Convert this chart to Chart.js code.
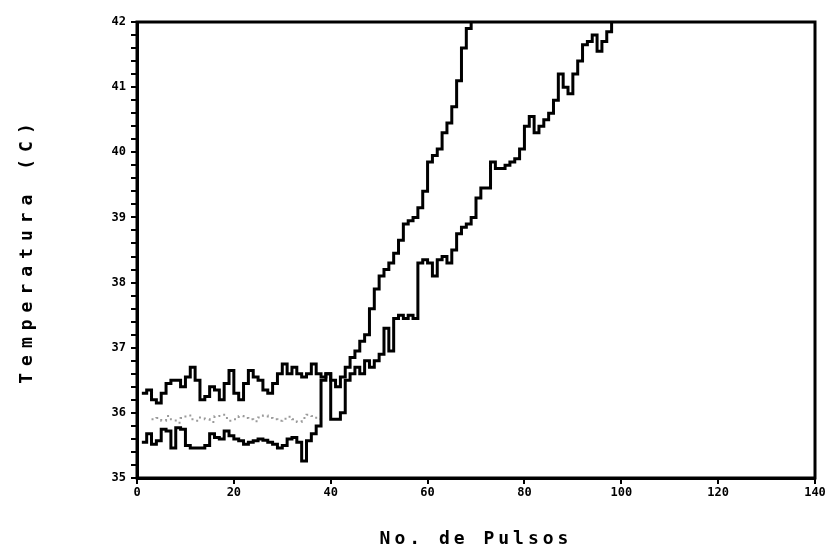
<!DOCTYPE html>
<html>
<head>
<meta charset="utf-8">
<script src="https://cdn.jsdelivr.net/npm/chart.js@4"></script>
<style>
  html, body { margin: 0; padding: 0; background: #fff; }
  #wrap { width: 838px; height: 558px; }
</style>
</head>
<body>
<div id="wrap"><canvas id="temp-chart"></canvas></div>
<script>
// pulse counts and temperatures
const pulsosA = [1, 2, 3, 4, 5, 6, 7, 8, 9, 10, 11, 12, 13, 14, 15, 16, 17, 18, 19, 20,
  21, 22, 23, 24, 25, 26, 27, 28, 29, 30, 31, 32, 33, 34, 35, 36, 37, 38, 39, 40,
  41, 42, 43, 44, 45, 46, 47, 48, 49, 50, 51, 52, 53, 54, 55, 56, 57, 58, 59, 60,
  61, 62, 63, 64, 65, 66, 67, 68, 69];
const tempA = [36.30, 36.35, 36.20, 36.15, 36.30, 36.45, 36.50, 36.50, 36.40, 36.55,
  36.70, 36.50, 36.20, 36.25, 36.40, 36.35, 36.20, 36.45, 36.65, 36.30,
  36.20, 36.45, 36.65, 36.55, 36.50, 36.35, 36.30, 36.45, 36.60, 36.75,
  36.60, 36.70, 36.60, 36.55, 36.60, 36.75, 36.60, 36.55, 36.60, 36.50,
  36.40, 36.55, 36.70, 36.85, 36.95, 37.10, 37.20, 37.60, 37.90, 38.10,
  38.20, 38.30, 38.45, 38.65, 38.90, 38.95, 39.00, 39.15, 39.40, 39.85,
  39.95, 40.05, 40.30, 40.45, 40.70, 41.10, 41.60, 41.90, 42.00];

const pulsosB = [1, 2, 3, 4, 5, 6, 7, 8, 9, 10, 11, 12, 13, 14, 15, 16, 17, 18, 19, 20,
  21, 22, 23, 24, 25, 26, 27, 28, 29, 30, 31, 32, 33, 34, 35, 36, 37, 38, 39, 40,
  41, 42, 43, 44, 45, 46, 47, 48, 49, 50, 51, 52, 53, 54, 55, 56, 57, 58, 59, 60,
  61, 62, 63, 64, 65, 66, 67, 68, 69, 70, 71, 72, 73, 74, 75, 76, 77, 78, 79, 80,
  81, 82, 83, 84, 85, 86, 87, 88, 89, 90, 91, 92, 93, 94, 95, 96, 97, 98];
const tempB = [35.55, 35.68, 35.52, 35.57, 35.75, 35.72, 35.46, 35.77, 35.75, 35.50,
  35.46, 35.46, 35.46, 35.50, 35.68, 35.62, 35.60, 35.72, 35.65, 35.60,
  35.57, 35.52, 35.55, 35.57, 35.60, 35.58, 35.55, 35.52, 35.46, 35.50,
  35.60, 35.62, 35.55, 35.26, 35.57, 35.68, 35.80, 36.50, 36.60, 35.90,
  35.90, 36.00, 36.50, 36.60, 36.70, 36.60, 36.80, 36.70, 36.80, 36.90,
  37.30, 36.95, 37.45, 37.50, 37.45, 37.50, 37.45, 38.30, 38.35, 38.30,
  38.10, 38.35, 38.40, 38.30, 38.50, 38.75, 38.85, 38.90, 39.00, 39.30,
  39.45, 39.45, 39.85, 39.75, 39.75, 39.80, 39.85, 39.90, 40.05, 40.40,
  40.55, 40.30, 40.40, 40.50, 40.60, 40.80, 41.20, 41.00, 40.90, 41.20,
  41.40, 41.65, 41.70, 41.80, 41.55, 41.70, 41.85, 42.00];

// faint dotted trace under the upper one
const pulsosC = [3, 4, 5, 6, 7, 8, 9, 10, 11, 12, 13, 14, 15, 16, 17, 18, 19, 20,
  21, 22, 23, 24, 25, 26, 27, 28, 29, 30, 31, 32, 33, 34, 35, 36, 37, 38];
const tempC = [35.90, 35.92, 35.88, 35.95, 35.90, 35.85, 35.92, 35.96, 35.90, 35.88,
  35.93, 35.90, 35.86, 35.95, 35.97, 35.92, 35.88, 35.90, 35.95, 35.92,
  35.90, 35.87, 35.93, 35.96, 35.92, 35.90, 35.88, 35.91, 35.94, 35.90,
  35.86, 35.92, 35.97, 35.95, 35.90, 35.93];

const xTitle = "No. de Pulsos";
const yTitle = "Temperatura (C)";

function toPoints(xs, ys) {
  return xs.map((x, i) => ({ x: x, y: ys[i] }));
}

// wrap a scale's title drawing so it gets wider letter spacing
function spaceTitle(scale, spacing) {
  if (scale._spaced) return;
  const orig = scale.drawTitle;
  scale.drawTitle = function () {
    const ctx = this.ctx;
    ctx.save();
    ctx.letterSpacing = spacing;
    orig.call(this);
    ctx.restore();
  };
  scale._spaced = true;
}

const frame = {
  id: 'frame',
  afterDatasetsDraw(chart) {
    const { ctx, chartArea } = chart;
    ctx.save();
    ctx.strokeStyle = '#000';
    ctx.lineWidth = 3;
    ctx.strokeRect(chartArea.left, chartArea.top, chartArea.right - chartArea.left, chartArea.bottom - chartArea.top);
    ctx.restore();
  }
};

const tickFont = { family: 'DejaVu Sans Mono', size: 12, weight: 'bold' };
const titleFont = { family: 'DejaVu Sans Mono', size: 18, weight: 'bold' };

const ctx = document.getElementById('temp-chart').getContext('2d');
new Chart(ctx, {
  type: 'line',
  data: {
    datasets: [
      {
        label: 'A',
        data: toPoints(pulsosA, tempA),
        borderColor: '#000',
        borderWidth: 3,
        stepped: true,
        pointRadius: 0
      },
      {
        label: 'B',
        data: toPoints(pulsosB, tempB),
        borderColor: '#000',
        borderWidth: 3,
        stepped: true,
        pointRadius: 0
      },
      {
        label: 'C',
        data: toPoints(pulsosC, tempC),
        borderColor: '#9a9a9a',
        borderWidth: 2,
        borderDash: [2, 4],
        stepped: true,
        pointRadius: 0
      }
    ]
  },
  options: {
    responsive: true,
    maintainAspectRatio: false,
    animation: false,
    layout: { padding: { top: 22, right: 23, left: 0, bottom: 0 } },
    plugins: {
      legend: { display: false },
      tooltip: { enabled: false }
    },
    scales: {
      x: {
        type: 'linear',
        min: 0,
        max: 140,
        afterFit: (scale) => { scale.height = 80; spaceTitle(scale, '4px'); },
        ticks: { stepSize: 20, color: '#000', font: tickFont, padding: 2, maxRotation: 0 },
        grid: { drawOnChartArea: false, color: '#000', tickLength: 6, lineWidth: 2 },
        border: { color: '#000', width: 3 },
        title: { display: true, text: xTitle, color: '#000', font: titleFont, padding: { top: 0, bottom: 8 } }
      },
      y: {
        min: 35,
        max: 42,
        afterFit: (scale) => { scale.width = 137; spaceTitle(scale, '7px'); },
        ticks: {
          stepSize: 0.2,
          autoSkip: false,
          maxTicksLimit: 100,
          color: '#000',
          font: tickFont,
          padding: 5,
          callback: (v) => Math.abs(v - Math.round(v)) < 1e-6 ? String(Math.round(v)) : ''
        },
        grid: { drawOnChartArea: false, color: '#000', tickLength: 6, lineWidth: 2 },
        border: { color: '#000', width: 3 },
        title: { display: true, text: yTitle, color: '#000', font: titleFont, padding: { top: 17, bottom: 0 } }
      }
    }
  },
  plugins: [frame]
});
</script>
</body>
</html>
